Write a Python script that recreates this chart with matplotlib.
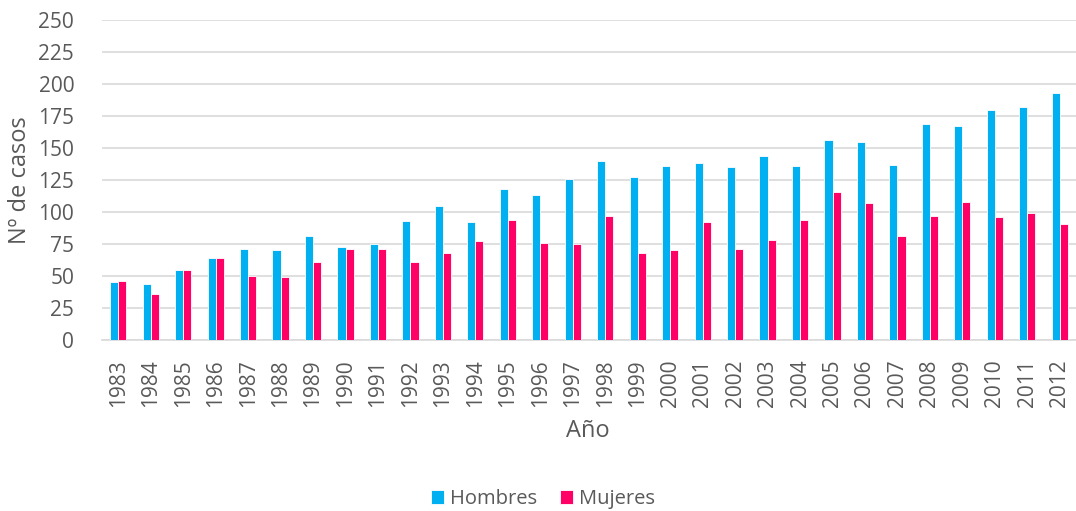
import matplotlib
matplotlib.use("Agg")
import matplotlib.pyplot as plt
import numpy as np

years = [str(y) for y in range(1983, 2013)]
hombres = [45, 44, 55, 64, 71, 70, 81, 73, 75, 93, 105, 92, 118, 113, 126,
           140, 127, 136, 138, 135, 144, 136, 156, 155, 137, 169, 167, 180, 182, 193]
mujeres = [46, 36, 55, 64, 50, 49, 61, 71, 71, 61, 68, 77, 94, 76, 75,
           97, 68, 70, 92, 71, 78, 94, 116, 107, 81, 97, 108, 96, 99, 91]
y_ticks = list(range(0, 251, 25))

plt.rcParams['font.family'] = ['Open Sans', 'DejaVu Sans']
txt = '#595959'

fig = plt.figure(figsize=(10.76, 5.11), dpi=100)
W, H = 1076, 511
ax = fig.add_axes([102 / W, 1 - 340 / H, (1076 - 102) / W, (340 - 20) / H])

x = np.arange(len(years))
w = 0.25
ax.bar(x - w / 2, hombres, w, color='#00B0F0', edgecolor='white', linewidth=0.6,
       label='Hombres', zorder=3)
ax.bar(x + w / 2, mujeres, w, color='#FF0066', edgecolor='white', linewidth=0.6,
       label='Mujeres', zorder=3)

ax.set_xlim(-0.5, len(years) - 0.5)
ax.set_ylim(0, 250)
ax.set_yticks(y_ticks)
ax.set_yticklabels([str(v) for v in y_ticks])
ax.set_xticks(x)
ax.set_xticklabels(years, rotation=90)
ax.tick_params(axis='both', length=0, labelsize=15, colors=txt)
ax.tick_params(axis='y', pad=20)
ax.tick_params(axis='x', pad=14)
ax.grid(axis='y', color='#D9D9D9', linewidth=1.2, zorder=0)
for s in ['top', 'right', 'left']:
    ax.spines[s].set_visible(False)
ax.spines['bottom'].set_color('#D9D9D9')
ax.spines['bottom'].set_linewidth(1.2)

ax.set_ylabel('Nº de casos', fontsize=17, color=txt, va='center')
ax.yaxis.set_label_coords((20 - 102) / 974, 0.5)
fig.text(588 / W, 1 - 431 / H, 'Año', fontsize=17, color=txt, ha='center', va='center')

leg = fig.legend(loc='center', bbox_to_anchor=(543 / W, 1 - 499 / H), ncol=2,
                 frameon=False, fontsize=14.5, handlelength=0.65, handleheight=0.65,
                 handletextpad=0.3, columnspacing=1.1)
for t in leg.get_texts():
    t.set_color(txt)

fig.savefig('out.png', dpi=100)
